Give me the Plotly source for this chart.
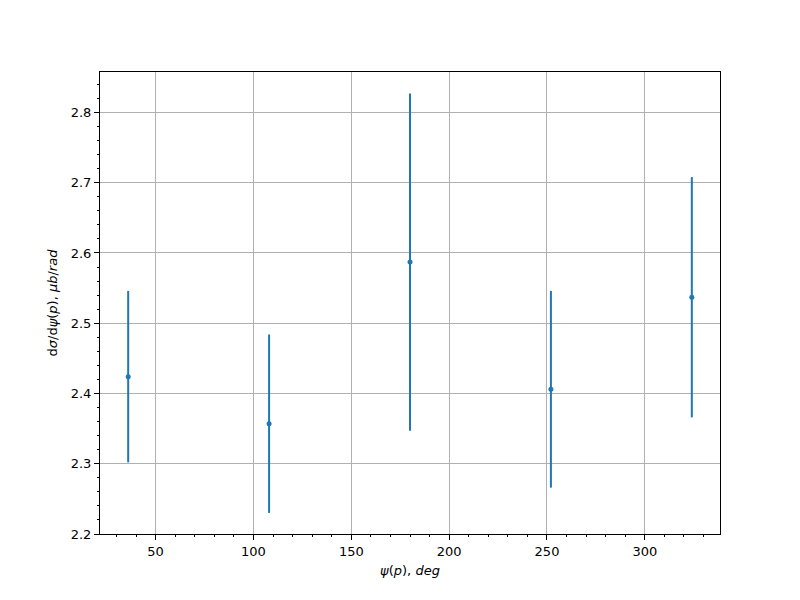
import plotly.graph_objects as go

psi_deg = [36, 108, 180, 252, 324]
dsigma = [2.424, 2.357, 2.587, 2.406, 2.537]
err = [0.122, 0.127, 0.240, 0.140, 0.171]

color = "#1f77b4"

fig = go.Figure()
fig.add_trace(go.Scatter(
    x=psi_deg, y=dsigma, mode="markers",
    marker=dict(color=color, size=5),
    error_y=dict(type="data", array=err, visible=True, color=color,
                 thickness=2, width=0),
    showlegend=False,
))

axis_common = dict(
    showline=True, linecolor="black", linewidth=1, mirror=True,
    ticks="outside", ticklen=5, tickwidth=1, tickcolor="black",
    showgrid=True, gridcolor="#b0b0b0", gridwidth=0.8,
    zeroline=False,
    tickfont=dict(family="DejaVu Sans", size=13, color="black"),
)

fig.update_layout(
    width=800, height=600,
    paper_bgcolor="white", plot_bgcolor="white",
    margin=dict(l=92, r=88, t=64, b=74),
    font=dict(family="DejaVu Sans", size=13, color="black"),
    xaxis=dict(
        range=[21.6, 338.4], dtick=50, tick0=0,
        minor=dict(dtick=10, ticks="outside", ticklen=2, tickcolor="black", showgrid=False),
        title=dict(text="<i>ψ</i>(<i>p</i>), <i>deg</i>", standoff=8,
                   font=dict(family="DejaVu Sans", size=13)),
        **axis_common,
    ),
    yaxis=dict(
        range=[2.2, 2.8576], dtick=0.1, tick0=2.2, tickformat=".1f",
        minor=dict(dtick=0.02, ticks="outside", ticklen=2, tickcolor="black", showgrid=False),
        title=dict(text="d<i>σ</i>/d<i>ψ</i>(<i>p</i>), <i>μb</i>/<i>rad</i>", standoff=10,
                   font=dict(family="DejaVu Sans", size=13)),
        **axis_common,
    ),
)

fig.write_html("out.html")
